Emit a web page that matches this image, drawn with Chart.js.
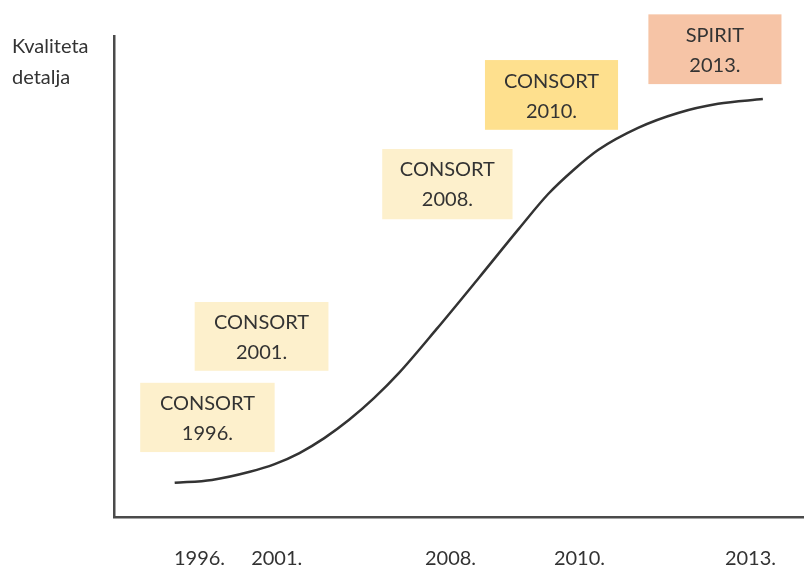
<!DOCTYPE html>
<html>
<head>
<meta charset="utf-8">
<script src="https://cdn.jsdelivr.net/npm/chart.js@4/dist/chart.umd.min.js"></script>
<style>
    html, body { margin: 0; padding: 0; background: #ffffff; }
    #wrap { width: 806px; height: 567px; position: relative; }
</style>
</head>
<body>
<div id="wrap"><canvas id="grafico"></canvas></div>
<script>
// ========================= PODACI =========================
// x i y su relativne jedinice (0-100) ocitane sa slike
const godine = ['1996.', '2001.', '2008.', '2010.', '2013.'];
const godinePoz = [12.4, 23.6, 48.8, 67.5, 92.3];

const krivaX = [8.8, 14.2, 19.7, 23.3, 26.9, 30.5, 34.1, 37.7, 41.3, 46.8, 52.9, 58.7, 63.0, 66.6, 70.2, 76.0, 81.8, 87.6, 94.1];
const krivaY = [7.1, 7.7, 9.4, 11.0, 13.3, 16.4, 20.2, 24.7, 29.9, 39.1, 49.7, 59.9, 67.2, 72.1, 76.3, 80.9, 84.0, 85.9, 86.9];

const oznakeNaziv = ['CONSORT', 'CONSORT', 'CONSORT', 'CONSORT', 'SPIRIT'];
const oznakeGodina = ['1996.', '2001.', '2008.', '2010.', '2013.'];

const naslovY = ['Kvaliteta', 'detalja'];

// ========================= IZGLED KUTIJA =========================
// [x1, x2, y-gore, y-dole] u jedinicama skala
const kutije = [
    [3.8, 23.3, 27.9, 13.5],
    [11.7, 31.1, 44.7, 30.4],
    [38.9, 57.8, 76.5, 61.9],
    [53.8, 73.1, 95.0, 80.5],
    [77.5, 96.8, 104.5, 90.0]
];
const bojeKutija = ['#fdf0cc', '#fdf0cc', '#fdf0cc', '#fee08e', '#f6c4a6'];

const FONT = 'Lato, "Open Sans", sans-serif';
const BOJA_TEKSTA = '#333333';

// ========================= PLUGIN ZA KUTIJE I NASLOV =========================
const oznakePlugin = {
    id: 'oznake',
    beforeDatasetsDraw(chart) {
        const ctx = chart.ctx;
        const sx = chart.scales.x;
        const sy = chart.scales.y;
        ctx.save();
        kutije.forEach((k, i) => {
            const x1 = sx.getPixelForValue(k[0]);
            const x2 = sx.getPixelForValue(k[1]);
            const y1 = sy.getPixelForValue(k[2]);
            const y2 = sy.getPixelForValue(k[3]);
            ctx.fillStyle = bojeKutija[i];
            ctx.fillRect(x1, y1, x2 - x1, y2 - y1);

            const cx = (x1 + x2) / 2;
            ctx.fillStyle = BOJA_TEKSTA;
            ctx.font = '20px ' + FONT;
            ctx.textAlign = 'center';
            ctx.textBaseline = 'middle';
            ctx.fillText(oznakeNaziv[i], cx, y1 + 21);
            ctx.fillText(oznakeGodina[i], cx, y1 + 51);
        });

        // naslov y ose
        ctx.fillStyle = BOJA_TEKSTA;
        ctx.font = '20px ' + FONT;
        ctx.textAlign = 'left';
        ctx.textBaseline = 'middle';
        ctx.fillText(naslovY[0], 12, 47);
        ctx.fillText(naslovY[1], 12, 78);
        ctx.restore();
    }
};

// ========================= GRAFIKON =========================
document.addEventListener('DOMContentLoaded', function() {
    const ctx = document.getElementById('grafico');

    new Chart(ctx, {
        type: 'line',
        data: {
            datasets: [{
                data: krivaX.map((x, i) => ({ x: x, y: krivaY[i] })),
                borderColor: '#333333',
                borderWidth: 2.5,
                pointRadius: 0,
                fill: false,
                cubicInterpolationMode: 'monotone'
            }]
        },
        options: {
            responsive: true,
            maintainAspectRatio: false,
            animation: false,
            layout: {
                padding: { top: 36, right: 0, left: 0, bottom: 0 }
            },
            plugins: {
                legend: { display: false },
                tooltip: { enabled: false }
            },
            scales: {
                x: {
                    type: 'linear',
                    min: 0,
                    max: 100,
                    grid: { display: false, drawTicks: false },
                    border: { display: true, color: '#4a4a4a', width: 2.5 },
                    afterBuildTicks: function(scale) {
                        scale.ticks = godinePoz.map(v => ({ value: v }));
                    },
                    afterFit: function(scale) {
                        scale.height = 50;
                    },
                    ticks: {
                        autoSkip: false,
                        maxRotation: 0,
                        padding: 30,
                        color: BOJA_TEKSTA,
                        font: { family: FONT, size: 20 },
                        callback: function(value) {
                            const i = godinePoz.indexOf(value);
                            return i >= 0 ? godine[i] : '';
                        }
                    }
                },
                y: {
                    type: 'linear',
                    min: 0,
                    max: 100,
                    grid: { display: false, drawTicks: false },
                    border: { display: true, color: '#4a4a4a', width: 2.5 },
                    ticks: { display: false },
                    afterFit: function(scale) {
                        scale.width = 114;
                    }
                }
            }
        },
        plugins: [oznakePlugin]
    });
});
</script>
</body>
</html>
